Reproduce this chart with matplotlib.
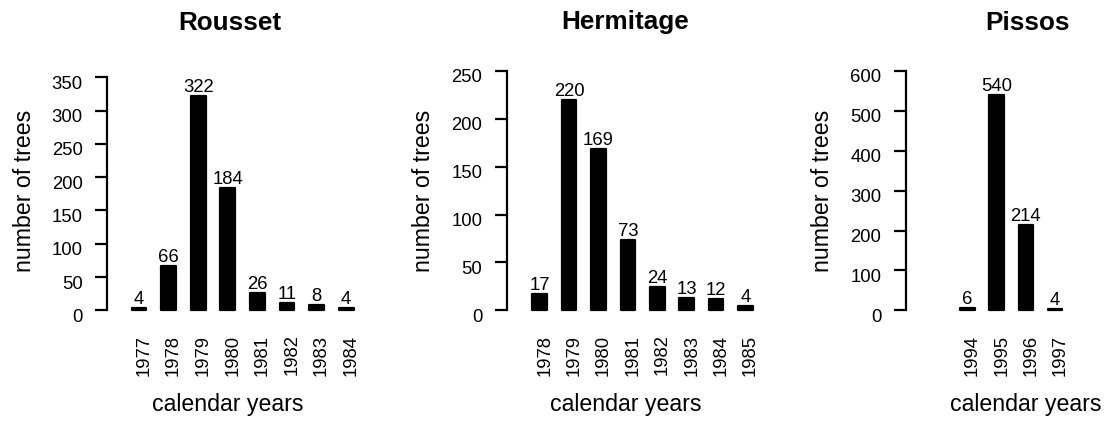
import matplotlib
matplotlib.use("Agg")
import matplotlib.pyplot as plt
from matplotlib.transforms import ScaledTranslation

plt.rcParams['font.family'] = ['Liberation Sans', 'DejaVu Sans']

# ---- data ----
titles = ["Rousset", "Hermitage", "Pissos"]
rousset_years = [1977, 1978, 1979, 1980, 1981, 1982, 1983, 1984]
rousset_counts = [4, 66, 322, 184, 26, 11, 8, 4]
hermitage_years = [1978, 1979, 1980, 1981, 1982, 1983, 1984, 1985]
hermitage_counts = [17, 220, 169, 73, 24, 13, 12, 4]
pissos_years = [1994, 1995, 1996, 1997]
pissos_counts = [6, 540, 214, 4]
rousset_yticks = [0, 50, 100, 150, 200, 250, 300, 350]
hermitage_yticks = [0, 50, 100, 150, 200, 250]
pissos_yticks = [0, 100, 200, 300, 400, 500, 600]
ylabel = "number of trees"
xlabel = "calendar years"

W, H, DPI = 1109, 422, 100
fig = plt.figure(figsize=(W / DPI, H / DPI), dpi=DPI)

def fx(px):
    return px / W

def fy(py):
    return 1 - py / H

# layout (pixels): spine x, first-bar offset px, spacing px, top-tick px
panels = [
    dict(years=rousset_years, counts=rousset_counts, yt=rousset_yticks,
         spine=107.0, off=32.0, sp=29.6, toptick_px=77.3, title_x=229.5, ylab_x=24.5, xlab_x=228.0),
    dict(years=hermitage_years, counts=hermitage_counts, yt=hermitage_yticks,
         spine=506.7, off=33.0, sp=29.4, toptick_px=71.0, title_x=625.0, ylab_x=424.0, xlab_x=625.5),
    dict(years=pissos_years, counts=pissos_counts, yt=pissos_yticks,
         spine=905.7, off=61.8, sp=29.2, toptick_px=71.0, title_x=1027.5, ylab_x=822.5, xlab_x=1025.5),
]

bottom_px, top_px = 310.3, 71.0
tick_fs = 13.3
lab_fs = 16.7
title_fs = 18.8

for i, p in enumerate(panels):
    years, counts = p["years"], p["counts"]
    x0 = years[0] - p["off"] / p["sp"]
    x1 = years[-1] + 0.6
    width_px = (x1 - x0) * p["sp"]
    left = p["spine"]
    ax = fig.add_axes([fx(left), fy(bottom_px), width_px / W, (bottom_px - top_px) / H])
    ax.set_xlim(x0, x1)
    ytop = p["yt"][-1] * (bottom_px - top_px) / (bottom_px - p["toptick_px"])
    ax.set_ylim(0, ytop)
    ax.patch.set_visible(False)

    ax.bar(years, counts, width=0.5, color="black", edgecolor="black",
           linewidth=1.6, joinstyle="round", clip_on=False)
    for xv, v in zip(years, counts):
        ax.annotate(str(v), (xv, v), xytext=(0, 4.0), textcoords="offset pixels",
                    ha="center", va="baseline", fontsize=tick_fs)

    for s in ["top", "right", "bottom"]:
        ax.spines[s].set_visible(False)
    ax.spines["left"].set_linewidth(1.6)
    ax.spines["left"].set_bounds(0, p["yt"][-1])
    ax.set_yticks(p["yt"])
    ax.set_yticklabels([str(t) for t in p["yt"]])
    ax.tick_params(axis="y", length=8.6, width=1.6, labelsize=tick_fs, pad=9)
    for lab in ax.get_yticklabels():
        lab.set_transform(lab.get_transform() + ScaledTranslation(0, -5 / DPI, fig.dpi_scale_trans))

    ax.set_xticks(years)
    ax.set_xticklabels([str(y) for y in years], rotation=90, va="top", ha="center")
    ax.tick_params(axis="x", length=0, labelsize=tick_fs, pad=17.5)
    for lab in ax.get_xticklabels():
        lab.set_transform(lab.get_transform() + ScaledTranslation(5 / DPI, 0, fig.dpi_scale_trans))

    fig.text(fx(p["title_x"]), fy(22.5), titles[i], ha="center", va="center",
             fontsize=title_fs, fontweight="bold")
    fig.text(fx(p["ylab_x"]), fy(191.0), ylabel, rotation=90, ha="center", va="center",
             fontsize=lab_fs)
    fig.text(fx(p["xlab_x"]), fy(404.0), xlabel, ha="center", va="center", fontsize=lab_fs)

fig.savefig("out.png", dpi=DPI)
